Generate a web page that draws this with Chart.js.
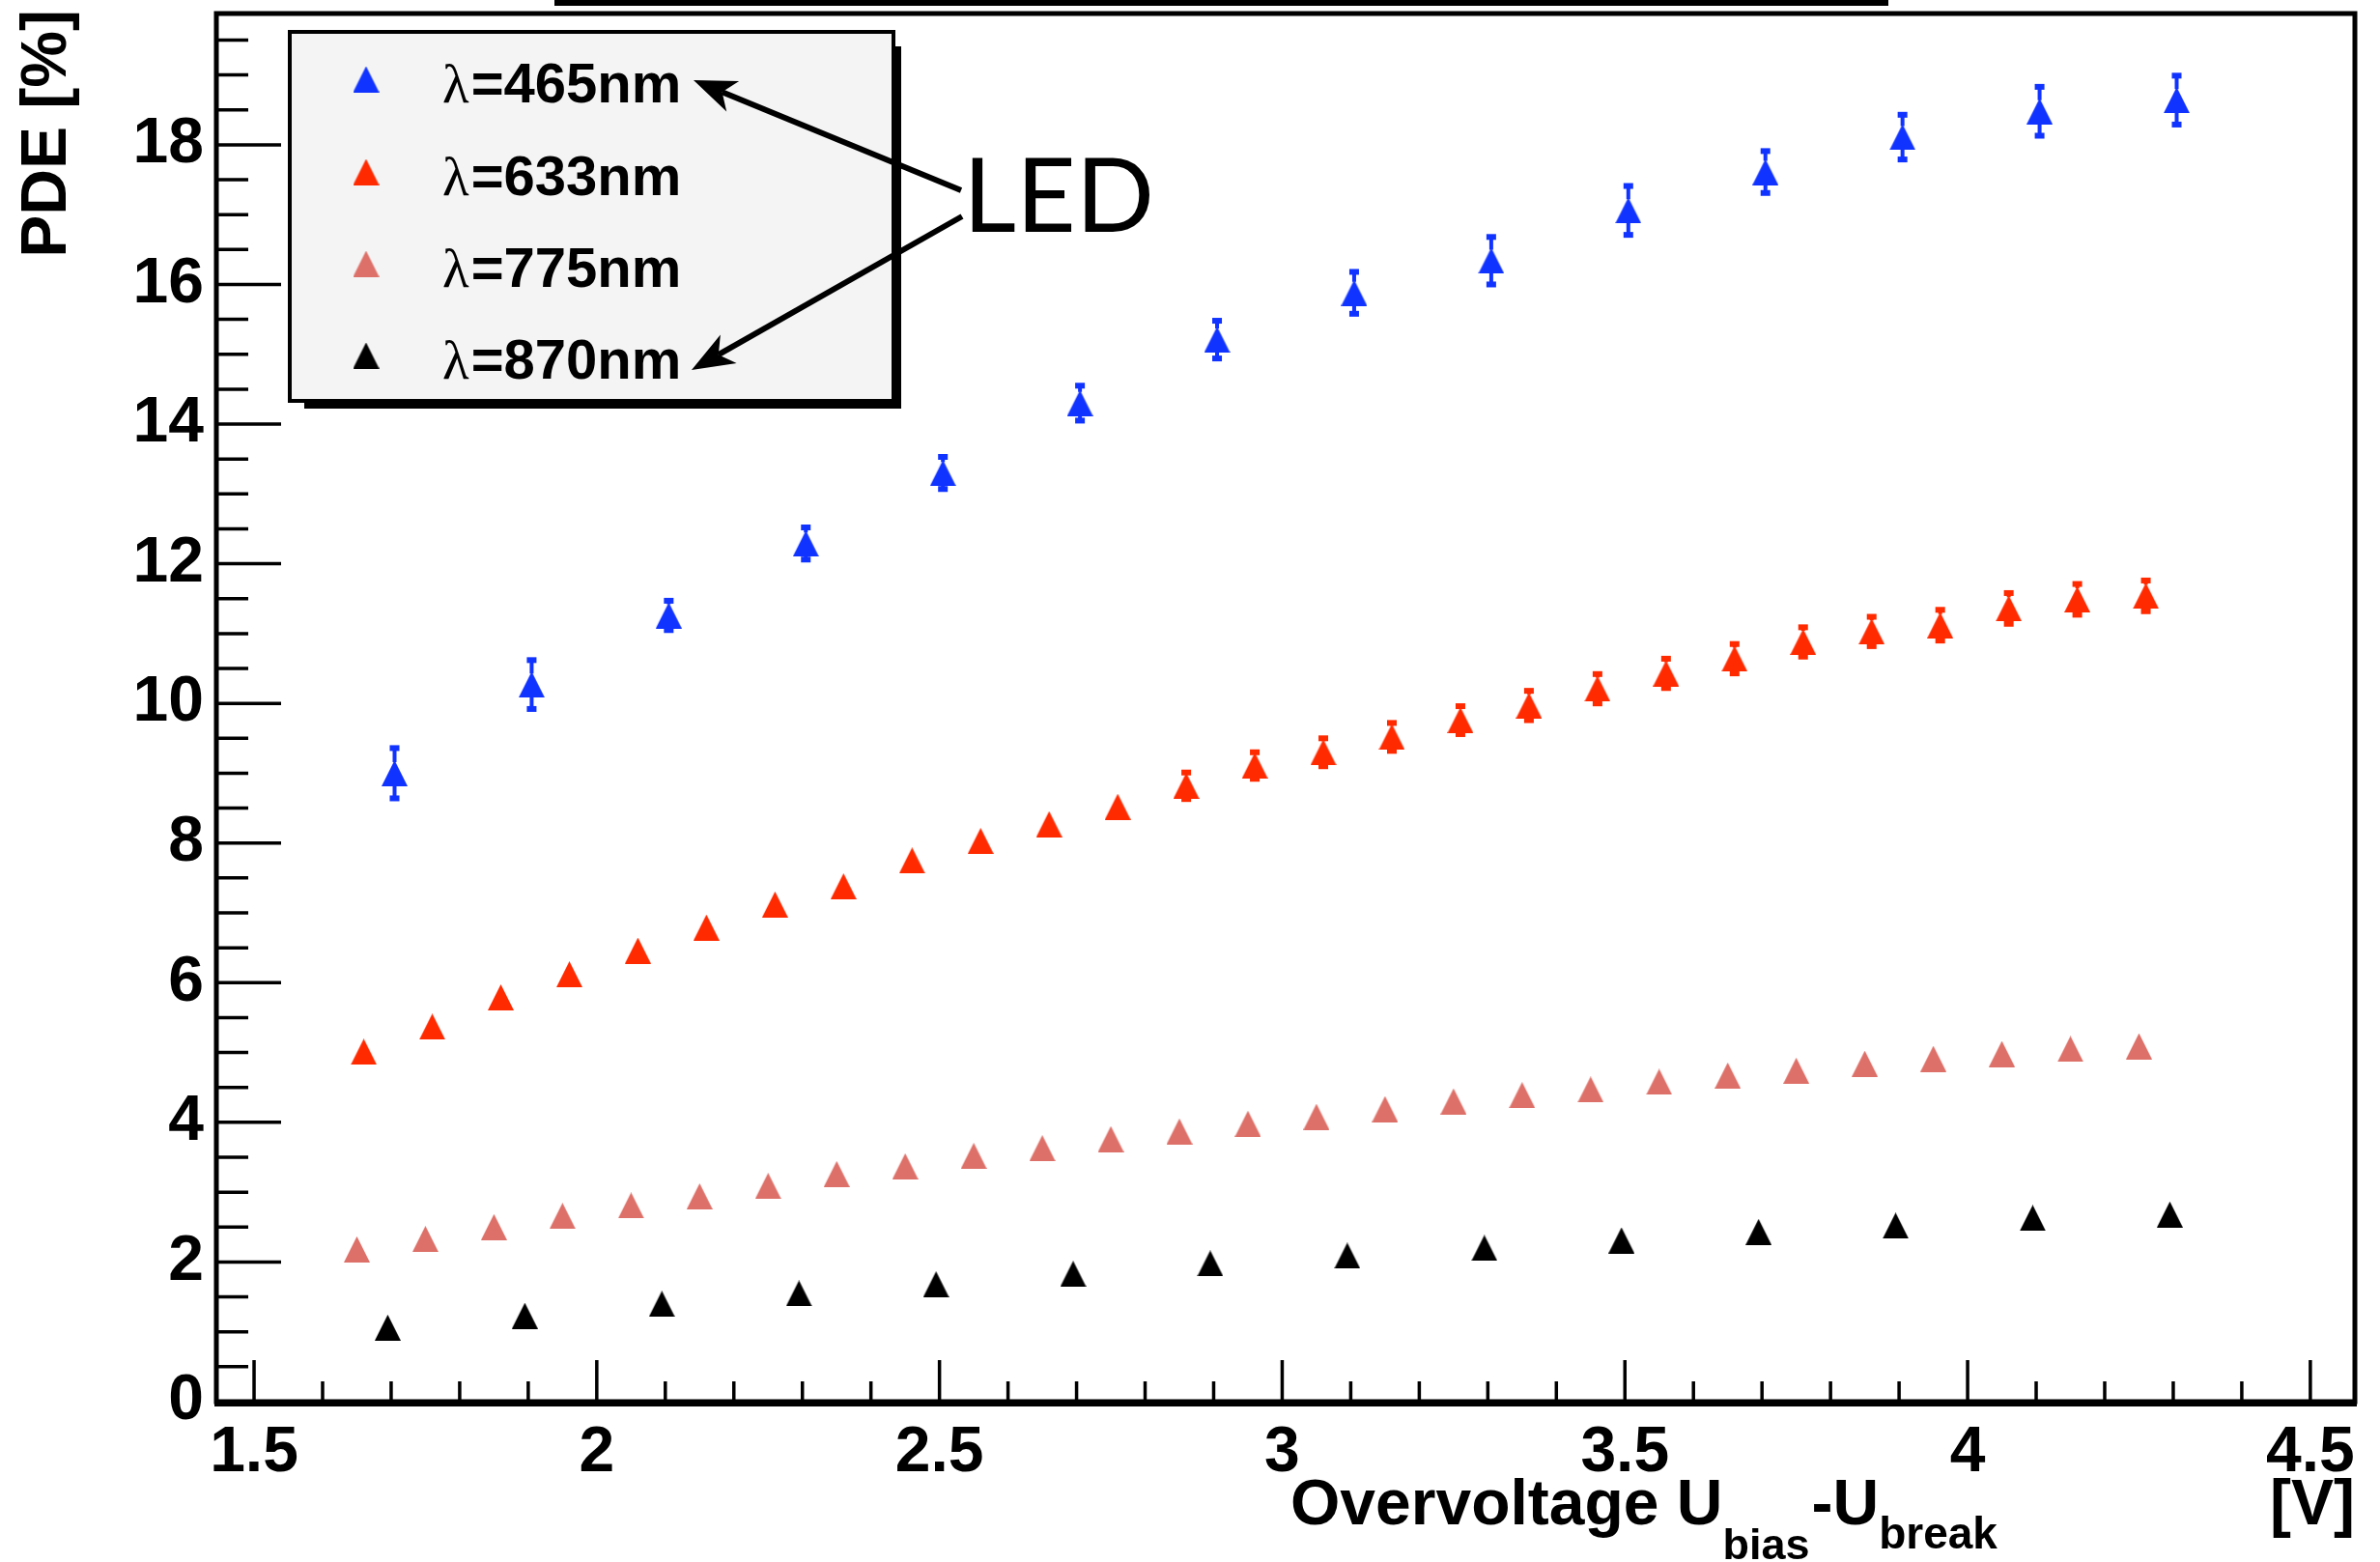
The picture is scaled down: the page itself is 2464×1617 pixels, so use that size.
<!DOCTYPE html>
<html>
<head>
<meta charset="utf-8">
<script src="https://cdn.jsdelivr.net/npm/chart.js@4.4.1/dist/chart.umd.min.js"></script>
<style>
  html, body { margin: 0; padding: 0; background: #fff; }
  #wrap { width: 2464px; height: 1617px; }
</style>
</head>
<body>
<div id="wrap"><canvas id="pde" width="2464" height="1617"></canvas></div>
<script>
// ---- data ----
const seriesLabels = ['465nm', '633nm', '775nm', '870nm'];
const seriesColors = ['#1133ff', '#ff2a00', '#dd7068', '#000000'];

const x465 = [1.705, 1.905, 2.105, 2.305, 2.505, 2.705, 2.905, 3.105, 3.305, 3.505, 3.705, 3.905, 4.105, 4.305];
const y465 = [9.00, 10.27, 11.26, 12.29, 13.30, 14.30, 15.21, 15.88, 16.34, 17.06, 17.61, 18.11, 18.48, 18.64];
const e465 = [0.36, 0.35, 0.21, 0.23, 0.23, 0.25, 0.27, 0.30, 0.34, 0.35, 0.30, 0.32, 0.35, 0.35];

const x633 = [1.66, 1.76, 1.86, 1.96, 2.06, 2.16, 2.26, 2.36, 2.46, 2.56, 2.66, 2.76, 2.86, 2.96,
              3.06, 3.16, 3.26, 3.36, 3.46, 3.56, 3.66, 3.76, 3.86, 3.96, 4.06, 4.16, 4.26];
const y633 = [5.01, 5.37, 5.79, 6.12, 6.46, 6.79, 7.12, 7.38, 7.75, 8.03, 8.27, 8.52, 8.82, 9.11,
              9.30, 9.52, 9.76, 9.97, 10.21, 10.43, 10.64, 10.88, 11.03, 11.12, 11.36, 11.49, 11.54];
const e633 = [0.12, 0.12, 0.13, 0.13, 0.14, 0.14, 0.15, 0.15, 0.16, 0.16, 0.17, 0.17, 0.19, 0.19,
              0.20, 0.20, 0.20, 0.21, 0.21, 0.21, 0.21, 0.21, 0.21, 0.22, 0.22, 0.22, 0.22];

const x775 = [1.65, 1.75, 1.85, 1.95, 2.05, 2.15, 2.25, 2.35, 2.45, 2.55, 2.65, 2.75, 2.85, 2.95,
              3.05, 3.15, 3.25, 3.35, 3.45, 3.55, 3.65, 3.75, 3.85, 3.95, 4.05, 4.15, 4.25];
const y775 = [2.18, 2.33, 2.50, 2.66, 2.81, 2.94, 3.09, 3.26, 3.37, 3.52, 3.63, 3.76, 3.87, 3.98,
              4.08, 4.19, 4.30, 4.39, 4.47, 4.58, 4.67, 4.74, 4.84, 4.91, 4.98, 5.05, 5.09];

const x870 = [1.695, 1.895, 2.095, 2.295, 2.495, 2.695, 2.895, 3.095, 3.295, 3.495, 3.695, 3.895, 4.095, 4.295];
const y870 = [1.06, 1.23, 1.40, 1.55, 1.68, 1.83, 1.98, 2.09, 2.20, 2.31, 2.43, 2.52, 2.63, 2.68];

// axis ranges / ticks
const xRange = [1.445, 4.565];
const yRange = [0, 19.88];
const xMajorStep = 0.5, xMinorStep = 0.1;
const yMajorStep = 2, yMinorStep = 0.5;

const FONT = "'Liberation Sans', Arial, Helvetica, sans-serif";
const MARK = 27; // marker size in px

// ROOT-like triangle marker (bbox centred on the point)
function triangle(color) {
    const c = document.createElement('canvas');
    c.width = MARK; c.height = MARK;
    const g = c.getContext('2d');
    g.fillStyle = color;
    g.beginPath();
    g.moveTo(MARK / 2, 0);
    g.lineTo(MARK, MARK);
    g.lineTo(0, MARK);
    g.closePath();
    g.fill();
    return c;
}
const markers = seriesColors.map(triangle);

function pts(xs, ys) {
    return xs.map((x, i) => ({ x: x, y: ys[i] }));
}

const errors = [e465, e633, null, null];

const rootStyle = {
    id: 'rootStyle',
    beforeDatasetsDraw(chart) {
        // error bars like ROOT: only the part sticking out of the marker, with end caps
        const ctx = chart.ctx, xs = chart.scales.x, ys = chart.scales.y;
        const h = MARK / 2;
        ctx.save();
        chart.data.datasets.forEach((ds, d) => {
            const err = errors[d];
            if (!err) return;
            ctx.strokeStyle = seriesColors[d];
            ctx.fillStyle = seriesColors[d];
            ctx.lineWidth = 4;
            ds.data.forEach((p, i) => {
                const px = xs.getPixelForValue(p.x);
                const py = ys.getPixelForValue(p.y);
                const top = ys.getPixelForValue(p.y + err[i]);
                const bot = ys.getPixelForValue(p.y - err[i]);
                if (py - top <= h) return;
                ctx.beginPath();
                ctx.moveTo(px, top);
                ctx.lineTo(px, py - h + 2);
                ctx.moveTo(px, py + h - 2);
                ctx.lineTo(px, bot);
                ctx.stroke();
                ctx.fillRect(px - 5, top - 3, 10, 6);
                ctx.fillRect(px - 5, bot - 3, 10, 6);
            });
        });
        ctx.restore();
    },
    afterDatasetsDraw(chart) {
        const ctx = chart.ctx, xs = chart.scales.x, ys = chart.scales.y;
        const a = chart.chartArea;
        ctx.save();

        // frame
        ctx.strokeStyle = '#000';
        ctx.lineWidth = 5;
        ctx.strokeRect(a.left, a.top, a.right - a.left, a.bottom - a.top);
        ctx.fillStyle = '#000';
        ctx.fillRect(a.left - 2, a.bottom, a.right - a.left + 4, 5);

        // ticks drawn inside the frame
        ctx.lineWidth = 3.5;
        ctx.beginPath();
        for (let k = Math.ceil(xRange[0] / xMinorStep); k * xMinorStep <= xRange[1]; k++) {
            const v = k * xMinorStep;
            const major = Math.abs(v / xMajorStep - Math.round(v / xMajorStep)) < 1e-6;
            const px = xs.getPixelForValue(v);
            ctx.moveTo(px, a.bottom);
            ctx.lineTo(px, a.bottom - (major ? 43 : 21));
        }
        for (let k = 0; k * yMinorStep <= yRange[1]; k++) {
            const v = k * yMinorStep;
            const major = Math.abs(v / yMajorStep - Math.round(v / yMajorStep)) < 1e-6;
            const py = ys.getPixelForValue(v);
            ctx.moveTo(a.left, py);
            ctx.lineTo(a.left + (major ? 67 : 33), py);
        }
        ctx.stroke();

        // cut-off title box at the very top
        ctx.fillRect(574, 0, 1381, 6);

        // legend box with shadow
        ctx.fillRect(315, 48, 618, 375);
        ctx.fillStyle = '#f4f4f4';
        ctx.fillRect(300, 33, 625, 382);
        ctx.lineWidth = 4;
        ctx.strokeRect(300, 33, 625, 382);
        const rowY = [82, 178, 273, 368];
        seriesLabels.forEach((lab, i) => {
            ctx.drawImage(markers[i], 379 - MARK / 2, rowY[i] - MARK / 2);
            const base = rowY[i] + 24;
            ctx.fillStyle = '#000';
            ctx.textAlign = 'left';
            ctx.textBaseline = 'alphabetic';
            ctx.font = "57px 'Liberation Serif', 'DejaVu Serif', serif";
            ctx.fillText('λ', 458, base);
            const w = ctx.measureText('λ').width;
            ctx.font = 'bold 58px ' + FONT;
            ctx.fillText('=' + lab, 458 + w + 2, base);
        });

        // LED annotation with arrows
        ctx.fillStyle = '#000';
        ctx.font = "400 107px Lato, 'Open Sans', sans-serif";
        ctx.fillText('LED', 997, 240);
        arrow(ctx, 995, 197, 718, 83);
        arrow(ctx, 996, 224, 716, 383);

        // y title
        ctx.save();
        ctx.translate(68, 10);
        ctx.rotate(-Math.PI / 2);
        ctx.textAlign = 'right';
        ctx.font = 'bold 66px ' + FONT;
        ctx.fillText('PDE [%]', 0, 0);
        ctx.restore();

        // x title with subscripts
        ctx.textAlign = 'left';
        let x = 1336;
        ctx.font = 'bold 66px ' + FONT;
        ctx.fillText('Overvoltage U', x, 1578);
        x += ctx.measureText('Overvoltage U').width;
        ctx.font = 'bold 45px ' + FONT;
        ctx.fillText('bias', x, 1614);
        x += ctx.measureText('bias').width + 2;
        ctx.font = 'bold 66px ' + FONT;
        ctx.fillText('-U', x, 1578);
        x += ctx.measureText('-U').width;
        ctx.font = 'bold 46px ' + FONT;
        ctx.fillText('break', x, 1603);
        ctx.font = 'bold 66px ' + FONT;
        ctx.textAlign = 'right';
        ctx.fillText('[V]', a.right, 1578);

        ctx.restore();
    }
};

function arrow(ctx, x0, y0, x1, y1) {
    const ang = Math.atan2(y1 - y0, x1 - x0);
    const L = 44, W = 17, N = 32;
    const bx = x1 - Math.cos(ang) * N, by = y1 - Math.sin(ang) * N;
    ctx.lineWidth = 6;
    ctx.beginPath();
    ctx.moveTo(x0, y0);
    ctx.lineTo(bx, by);
    ctx.stroke();
    const cx = x1 - Math.cos(ang) * L, cy = y1 - Math.sin(ang) * L;
    ctx.beginPath();
    ctx.moveTo(x1, y1);
    ctx.lineTo(cx - Math.sin(ang) * W, cy + Math.cos(ang) * W);
    ctx.lineTo(bx, by);
    ctx.lineTo(cx + Math.sin(ang) * W, cy - Math.cos(ang) * W);
    ctx.closePath();
    ctx.fill();
}

const tickFont = { family: FONT, weight: 'bold', size: 66 };

// the scales should not reserve room for half a label at their ends
function noEndPadding(s) {
    s.paddingTop = 0;
    s.paddingBottom = 0;
    s.paddingLeft = 0;
    s.paddingRight = 0;
}

function makeChart() {
    const ctx = document.getElementById('pde').getContext('2d');
    new Chart(ctx, {
        type: 'scatter',
        data: {
            datasets: [
                { label: seriesLabels[0], data: pts(x465, y465) },
                { label: seriesLabels[1], data: pts(x633, y633) },
                { label: seriesLabels[2], data: pts(x775, y775) },
                { label: seriesLabels[3], data: pts(x870, y870) }
            ].map((ds, i) => Object.assign(ds, {
                pointStyle: markers[i],
                pointRadius: 13,
                backgroundColor: seriesColors[i],
                borderColor: seriesColors[i],
                showLine: false
            }))
        },
        options: {
            responsive: false,
            animation: false,
            layout: { padding: { top: 10, right: 26, left: 0, bottom: 0 } },
            plugins: { legend: { display: false }, tooltip: { enabled: false } },
            scales: {
                x: {
                    type: 'linear',
                    min: xRange[0], max: xRange[1],
                    afterFit: s => { s.height = 166; noEndPadding(s); },
                    grid: { display: false, drawTicks: false },
                    border: { display: false },
                    ticks: {
                        stepSize: xMajorStep, includeBounds: false, padding: 14,
                        color: '#000', font: tickFont, maxRotation: 0, autoSkip: false,
                        callback: v => String(v)
                    }
                },
                y: {
                    type: 'linear',
                    min: yRange[0], max: yRange[1],
                    afterFit: s => { s.width = 224; noEndPadding(s); },
                    grid: { display: false, drawTicks: false },
                    border: { display: false },
                    ticks: {
                        stepSize: yMajorStep, includeBounds: false, padding: 13,
                        color: '#000', font: tickFont, autoSkip: false,
                        callback: v => String(v)
                    }
                }
            }
        },
        plugins: [rootStyle]
    });
}

Promise.all([
    document.fonts.load('bold 66px "Liberation Sans"'),
    document.fonts.load('57px "Liberation Serif"'),
    document.fonts.load('107px Lato')
]).then(makeChart, makeChart);
</script>
</body>
</html>
